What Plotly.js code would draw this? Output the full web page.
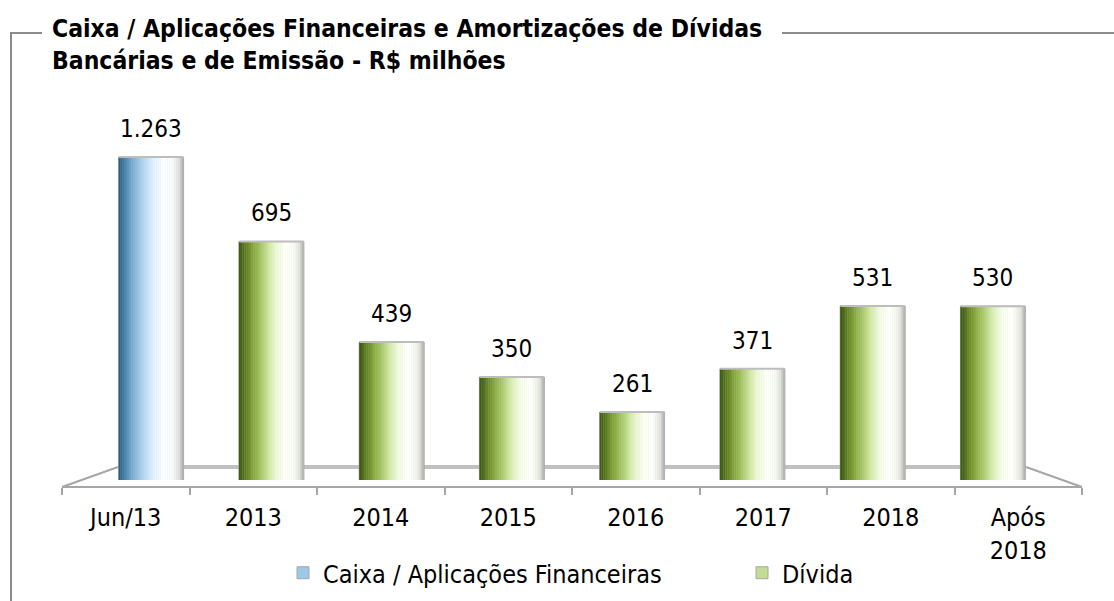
<!DOCTYPE html>
<html>
<head>
<meta charset="utf-8">
<script src="https://cdn.plot.ly/plotly-3.0.1.min.js"></script>
<style>
  html, body { margin: 0; padding: 0; background: #ffffff; }
  #chart { width: 1114px; height: 601px; }
</style>
</head>
<body>
<div id="chart"></div>
<script>
// ---- data ----
const categories = ['Jun/13', '2013', '2014', '2015', '2016', '2017', '2018', 'Após<br>2018'];
const values = [1263, 695, 439, 350, 261, 371, 531, 530];
const seriesOf = ['caixa', 'divida', 'divida', 'divida', 'divida', 'divida', 'divida', 'divida'];
const seriesNames = { caixa: 'Caixa / Aplicações Financeiras', divida: 'Dívida' };
const titleLines = ['Caixa / Aplicações Financeiras e Amortizações de Dívidas', 'Bancárias e de Emissão - R$ milhões'];

// ---- styles ----
const FONT = '"DejaVu Sans Condensed", "DejaVu Sans", sans-serif';
const W = 1114, H = 601;
const plotL = 62, plotR = 1082, plotT = 157, plotB = 487;
const barBottomPx = 480;
const yMin = 88, yMax = 910;
const barWidth = 0.54;
const N = 36;

const greenStops = ['#3c5514', '#5d7c24', '#86a63e', '#aecb72', '#d6ebac', '#eef8dc', '#fbfef4', '#ffffff', '#f6f7f2', '#e2e3de', '#a9a9a9'];
const greenPos   = [0, 0.1, 0.22, 0.36, 0.48, 0.58, 0.68, 0.78, 0.86, 0.93, 1];
const blueStops  = ['#275a7a', '#4a84aa', '#7eb0d4', '#acd0ec', '#d3e9f9', '#ecf6fe', '#fbfdff', '#ffffff', '#f4f4f4', '#e0e0e0', '#a5a5a5'];
const bluePos    = greenPos;

function hex2rgb(h) { return [1,3,5].map(i => parseInt(h.substr(i,2),16)); }
function interp(stops, pos, t) {
  for (let k = 0; k < pos.length - 1; k++) {
    if (t <= pos[k+1]) {
      const f = (t - pos[k]) / (pos[k+1] - pos[k]);
      const a = hex2rgb(stops[k]), b = hex2rgb(stops[k+1]);
      const c = a.map((v, i) => Math.round(v + (b[i]-v)*f));
      return 'rgb(' + c.join(',') + ')';
    }
  }
  return stops[stops.length-1];
}
function fmtBR(v) { return String(v).replace(/\B(?=(\d{3})+(?!\d))/g, '.'); }

const px2x = px => (px - plotL) / (plotR - plotL);
const px2y = py => (plotB - py) / (plotB - plotT);

const traces = [];
// base bars per series (carry the legend entries)
['caixa', 'divida'].forEach(s => {
  const idx = seriesOf.map((v, j) => v === s ? j : -1).filter(j => j >= 0);
  traces.push({
    type: 'bar', name: seriesNames[s], xaxis: 'x', yaxis: 'y',
    x: idx.map(j => categories[j]), y: idx.map(j => values[j]),
    width: barWidth,
    marker: { color: s === 'caixa' ? '#9ec8e8' : '#c2dc94', line: { color: '#a6a6a6', width: 1 } },
    showlegend: true, hoverinfo: 'skip'
  });
});
// cylinder shading strips
for (let i = 0; i < N; i++) {
  const t = (i + 0.5) / N;
  traces.push({
    type: 'bar', x: categories, y: values, xaxis: 'x', yaxis: 'y',
    width: barWidth / N + 0.002,
    offset: -barWidth / 2 + i * barWidth / N,
    marker: { color: seriesOf.map(s => s === 'caixa' ? interp(blueStops, bluePos, t) : interp(greenStops, greenPos, t)), line: { width: 0 } },
    showlegend: false, hoverinfo: 'skip'
  });
}
// cylinder top rim
traces.push({ type: 'scatter', mode: 'markers', xaxis: 'x', yaxis: 'y',
  x: categories, y: values.map(v => Math.min(v, yMax)),
  marker: { symbol: 'line-ew-open', size: 46, color: '#bdbdbd', line: { color: '#bdbdbd', width: 2 } },
  cliponaxis: false, showlegend: false, hoverinfo: 'skip' });
// category axis carrier (front axis)
traces.push({ type: 'scatter', mode: 'markers', x: categories, y: values, xaxis: 'x2', yaxis: 'y',
  marker: { opacity: 0 }, showlegend: false, hoverinfo: 'skip' });

const annotations = values.map((v, j) => ({
  x: j, y: Math.min(v, yMax), xref: 'x', yref: 'y',
  text: fmtBR(v), showarrow: false, yanchor: 'bottom', yshift: 12,
  font: { family: FONT, size: 24, color: '#000000' }
}));

const lineCol = '#a6a6a6';
const shapes = [
  // frame
  { type: 'line', xref: 'paper', yref: 'paper', x0: px2x(10), x1: px2x(42), y0: px2y(33), y1: px2y(33), line: { color: '#8c8c8c', width: 2 } },
  { type: 'line', xref: 'paper', yref: 'paper', x0: px2x(782), x1: px2x(1114), y0: px2y(33), y1: px2y(33), line: { color: '#8c8c8c', width: 2 } },
  { type: 'line', xref: 'paper', yref: 'paper', x0: px2x(11), x1: px2x(11), y0: px2y(33), y1: px2y(601), line: { color: '#8c8c8c', width: 2 } },
  // floor
  { type: 'line', xref: 'paper', yref: 'paper', x0: px2x(62), x1: px2x(118), y0: px2y(487), y1: px2y(467), line: { color: lineCol, width: 2 }, layer: 'below' },
  { type: 'line', xref: 'paper', yref: 'paper', x0: px2x(118), x1: px2x(1026), y0: px2y(467), y1: px2y(467), line: { color: '#c0c0c0', width: 4 }, layer: 'below' },
  { type: 'line', xref: 'paper', yref: 'paper', x0: px2x(1026), x1: px2x(1082), y0: px2y(467), y1: px2y(487), line: { color: lineCol, width: 2 }, layer: 'below' }
];

const layout = {
  width: W, height: H,
  margin: { l: plotL, r: W - plotR, t: plotT, b: H - plotB, pad: 0 },
  paper_bgcolor: '#ffffff', plot_bgcolor: 'rgba(0,0,0,0)',
  font: { family: FONT, color: '#000000' },
  barmode: 'overlay',
  title: {
    text: '<b>' + titleLines.join('<br>') + '</b>',
    xref: 'container', yref: 'container', x: 52 / W, xanchor: 'left', y: 1 - 37 / H, yanchor: 'top',
    font: { family: FONT, size: 24.5, color: '#000000' }
  },
  xaxis: {
    domain: [px2x(91), px2x(1053)], type: 'category', categoryarray: categories, categoryorder: 'array',
    range: [-0.5, categories.length - 0.5], showticklabels: false, showgrid: false, zeroline: false, showline: false, ticks: ''
  },
  xaxis2: {
    domain: [0, 1], anchor: 'free', position: 0, type: 'category', categoryarray: categories, categoryorder: 'array',
    range: [-0.5, categories.length - 0.5], showgrid: false, zeroline: false,
    showline: true, linecolor: lineCol, linewidth: 2,
    ticks: 'outside', tickson: 'boundaries', ticklen: 7, tickcolor: lineCol, tickwidth: 2,
    ticklabelstandoff: 8,
    tickfont: { family: FONT, size: 25, color: '#000000' }
  },
  yaxis: {
    domain: [(plotB - barBottomPx) / (plotB - plotT), 1], range: [yMin, yMax], visible: false, fixedrange: true
  },
  showlegend: true,
  legend: {
    orientation: 'h', xref: 'container', yref: 'container', x: 283 / W, xanchor: 'left', y: 1 - 573 / H, yanchor: 'middle',
    font: { family: FONT, size: 25, color: '#000000' }, entrywidth: 414, entrywidthmode: 'pixels',
    bgcolor: 'rgba(0,0,0,0)', traceorder: 'normal'
  },
  annotations: annotations,
  shapes: shapes
};

Plotly.newPlot('chart', traces, layout, { staticPlot: true, displayModeBar: false });
</script>
</body>
</html>
